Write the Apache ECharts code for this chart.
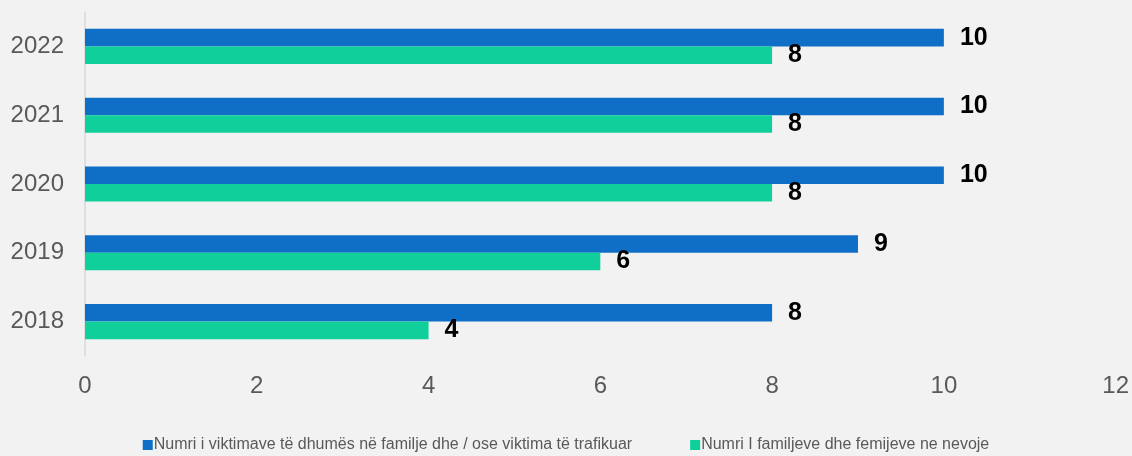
<!DOCTYPE html>
<html><head><meta charset="utf-8">
<script src="https://cdn.jsdelivr.net/npm/echarts@6/dist/echarts.min.js"></script>
<style>html,body{margin:0;padding:0;background:#f2f2f2}#c{width:1132px;height:456px}</style>
</head><body><div id="c"></div>
<script>
const categories = ['2018', '2019', '2020', '2021', '2022'];
const victims = [8, 9, 10, 10, 10];
const families = [4, 6, 8, 8, 8];
const seriesNames = ['Numri i viktimave të dhumës në familje dhe / ose viktima të trafikuar', 'Numri I familjeve dhe femijeve ne nevoje'];
const xTicks = {min: 0, max: 12, interval: 2};

const chart = echarts.init(document.getElementById('c'));
const FF = 'Liberation Sans, Arial, sans-serif';
const lbl = {show: true, position: 'right', distance: 16, fontFamily: FF, fontSize: 25, fontWeight: 'bold', color: '#000'};
chart.setOption({
  backgroundColor: '#f2f2f2',
  animation: false,
  grid: {left: 85, right: 15, top: 12, bottom: 100, containLabel: false},
  legend: {
    top: 432, left: 'center', itemWidth: 10, itemHeight: 10, itemGap: 58, icon: 'rect',
    textStyle: {fontFamily: FF, fontSize: 16, color: '#595959', padding: [0,0,0,-4]},
    data: seriesNames
  },
  xAxis: {
    type: 'value', min: xTicks.min, max: xTicks.max, interval: xTicks.interval,
    axisLine: {show: false}, axisTick: {show: false}, splitLine: {show: false},
    axisLabel: {fontFamily: FF, fontSize: 24, color: '#595959', margin: 18}
  },
  yAxis: {
    type: 'category', data: categories,
    axisLine: {show: true, lineStyle: {color: '#d9d9d9', width: 1.5}},
    axisTick: {show: false},
    axisLabel: {fontFamily: FF, fontSize: 24, color: '#595959', margin: 21}
  },
  series: [
    {name: seriesNames[0], type: 'bar', data: victims, itemStyle: {color: '#0f6fc6'}, barGap: '0%', barCategoryGap: '49%', label: lbl},
    {name: seriesNames[1], type: 'bar', data: families, itemStyle: {color: '#10cf9b'}, label: lbl}
  ]
});
</script></body></html>
